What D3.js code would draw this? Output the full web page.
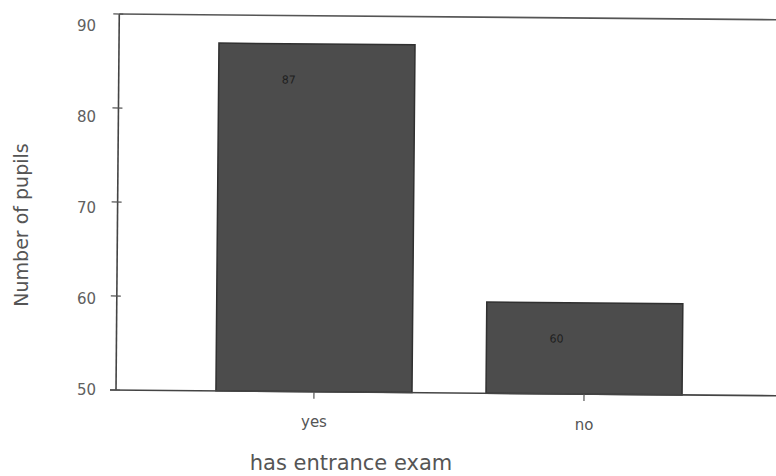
<!DOCTYPE html>
<html>
<head>
<meta charset="utf-8">
<script src="https://cdn.jsdelivr.net/npm/d3@7/dist/d3.min.js"></script>
<style>
  html, body { margin: 0; padding: 0; background: #fff; }
  svg { display: block; }
  text { font-family: "DejaVu Sans", sans-serif; }
</style>
</head>
<body>
<svg id="chart" width="776" height="476"></svg>
<script>
// ---- data ----
const categories = ["yes", "no"];
const pupils = [87, 59.7];
const yTicks = [50, 60, 70, 80, 90];
const yDomain = [50, 90];
const xTitle = "has entrance exam";
const yTitle = "Number of pupils";

// ---- layout ----
const plotLeft = 116, plotBottom = 390, plotTop = 14, plotRight = 782;

const svg = d3.select("#chart");

const x = d3.scaleBand()
  .domain(categories)
  .range([plotLeft, plotRight])
  .paddingInner(0.274)
  .paddingOuter(0.37);

const y = d3.scaleLinear().domain(yDomain).range([plotBottom, plotTop]);

// plot group slightly rotated like the scanned original
const plot = svg.append("g")
  .attr("transform", `rotate(0.5, ${plotLeft}, ${plotBottom})`);

const rows = categories.map((c, i) => ({ c, v: pupils[i] }));

// bars
plot.selectAll("rect.bar")
  .data(rows)
  .join("rect")
  .attr("class", "bar")
  .attr("x", d => x(d.c))
  .attr("y", d => y(d.v))
  .attr("width", x.bandwidth())
  .attr("height", d => y(yDomain[0]) - y(d.v))
  .attr("fill", "#4c4c4c")
  .attr("stroke", "#303030")
  .attr("stroke-width", 1.5);

// value labels inside bars
plot.selectAll("text.val")
  .data(rows)
  .join("text")
  .attr("class", "val")
  .attr("x", d => x(d.c) + x.bandwidth() / 2 - 28)
  .attr("y", d => y(d.v) + 36)
  .attr("dy", "0.35em")
  .attr("text-anchor", "middle")
  .attr("font-size", 11)
  .attr("fill", "#1e1e1e")
  .text(d => Math.round(d.v));

// top border line
plot.append("line")
  .attr("x1", plotLeft).attr("x2", plotRight + 10)
  .attr("y1", y(yDomain[1])).attr("y2", y(yDomain[1]))
  .attr("stroke", "#555").attr("stroke-width", 1.6);

// baseline (x axis)
plot.append("line")
  .attr("x1", plotLeft - 6).attr("x2", plotRight + 10)
  .attr("y1", y(yDomain[0])).attr("y2", y(yDomain[0]))
  .attr("stroke", "#444").attr("stroke-width", 1.6);

// y axis line
plot.append("line")
  .attr("x1", plotLeft).attr("x2", plotLeft)
  .attr("y1", y(yDomain[1])).attr("y2", y(yDomain[0]))
  .attr("stroke", "#444").attr("stroke-width", 1.6);

// y ticks (crossing axis)
plot.selectAll("line.ytick")
  .data(yTicks)
  .join("line")
  .attr("class", "ytick")
  .attr("x1", plotLeft - 6).attr("x2", plotLeft + 4)
  .attr("y1", d => y(d)).attr("y2", d => y(d))
  .attr("stroke", "#555").attr("stroke-width", 1.2);

// x ticks
plot.selectAll("line.xtick")
  .data(categories)
  .join("line")
  .attr("class", "xtick")
  .attr("x1", d => x(d) + x.bandwidth() / 2)
  .attr("x2", d => x(d) + x.bandwidth() / 2)
  .attr("y1", y(yDomain[0]))
  .attr("y2", y(yDomain[0]) + 7)
  .attr("stroke", "#555").attr("stroke-width", 1.2);

// y tick labels
svg.selectAll("text.ylab")
  .data(yTicks)
  .join("text")
  .attr("class", "ylab")
  .attr("x", plotLeft - 20)
  .attr("y", d => y(d) + (d - yDomain[0]) * 0.3)
  .attr("dy", "0.35em")
  .attr("text-anchor", "end")
  .attr("font-size", 15)
  .attr("fill", "#606060")
  .text(d => d);

// x tick labels
svg.selectAll("text.xlab")
  .data(categories)
  .join("text")
  .attr("class", "xlab")
  .attr("x", d => x(d) + x.bandwidth() / 2)
  .attr("y", (d, i) => plotBottom + 37 + i * 3)
  .attr("text-anchor", "middle")
  .attr("font-size", 15)
  .attr("fill", "#555")
  .text(d => d);

// axis titles
svg.append("text")
  .attr("x", 351)
  .attr("y", 470)
  .attr("text-anchor", "middle")
  .attr("font-size", 21)
  .attr("fill", "#555")
  .text(xTitle);

svg.append("text")
  .attr("transform", "translate(28, 225) rotate(-90)")
  .attr("text-anchor", "middle")
  .attr("font-size", 19)
  .attr("fill", "#555")
  .text(yTitle);
</script>
</body>
</html>
